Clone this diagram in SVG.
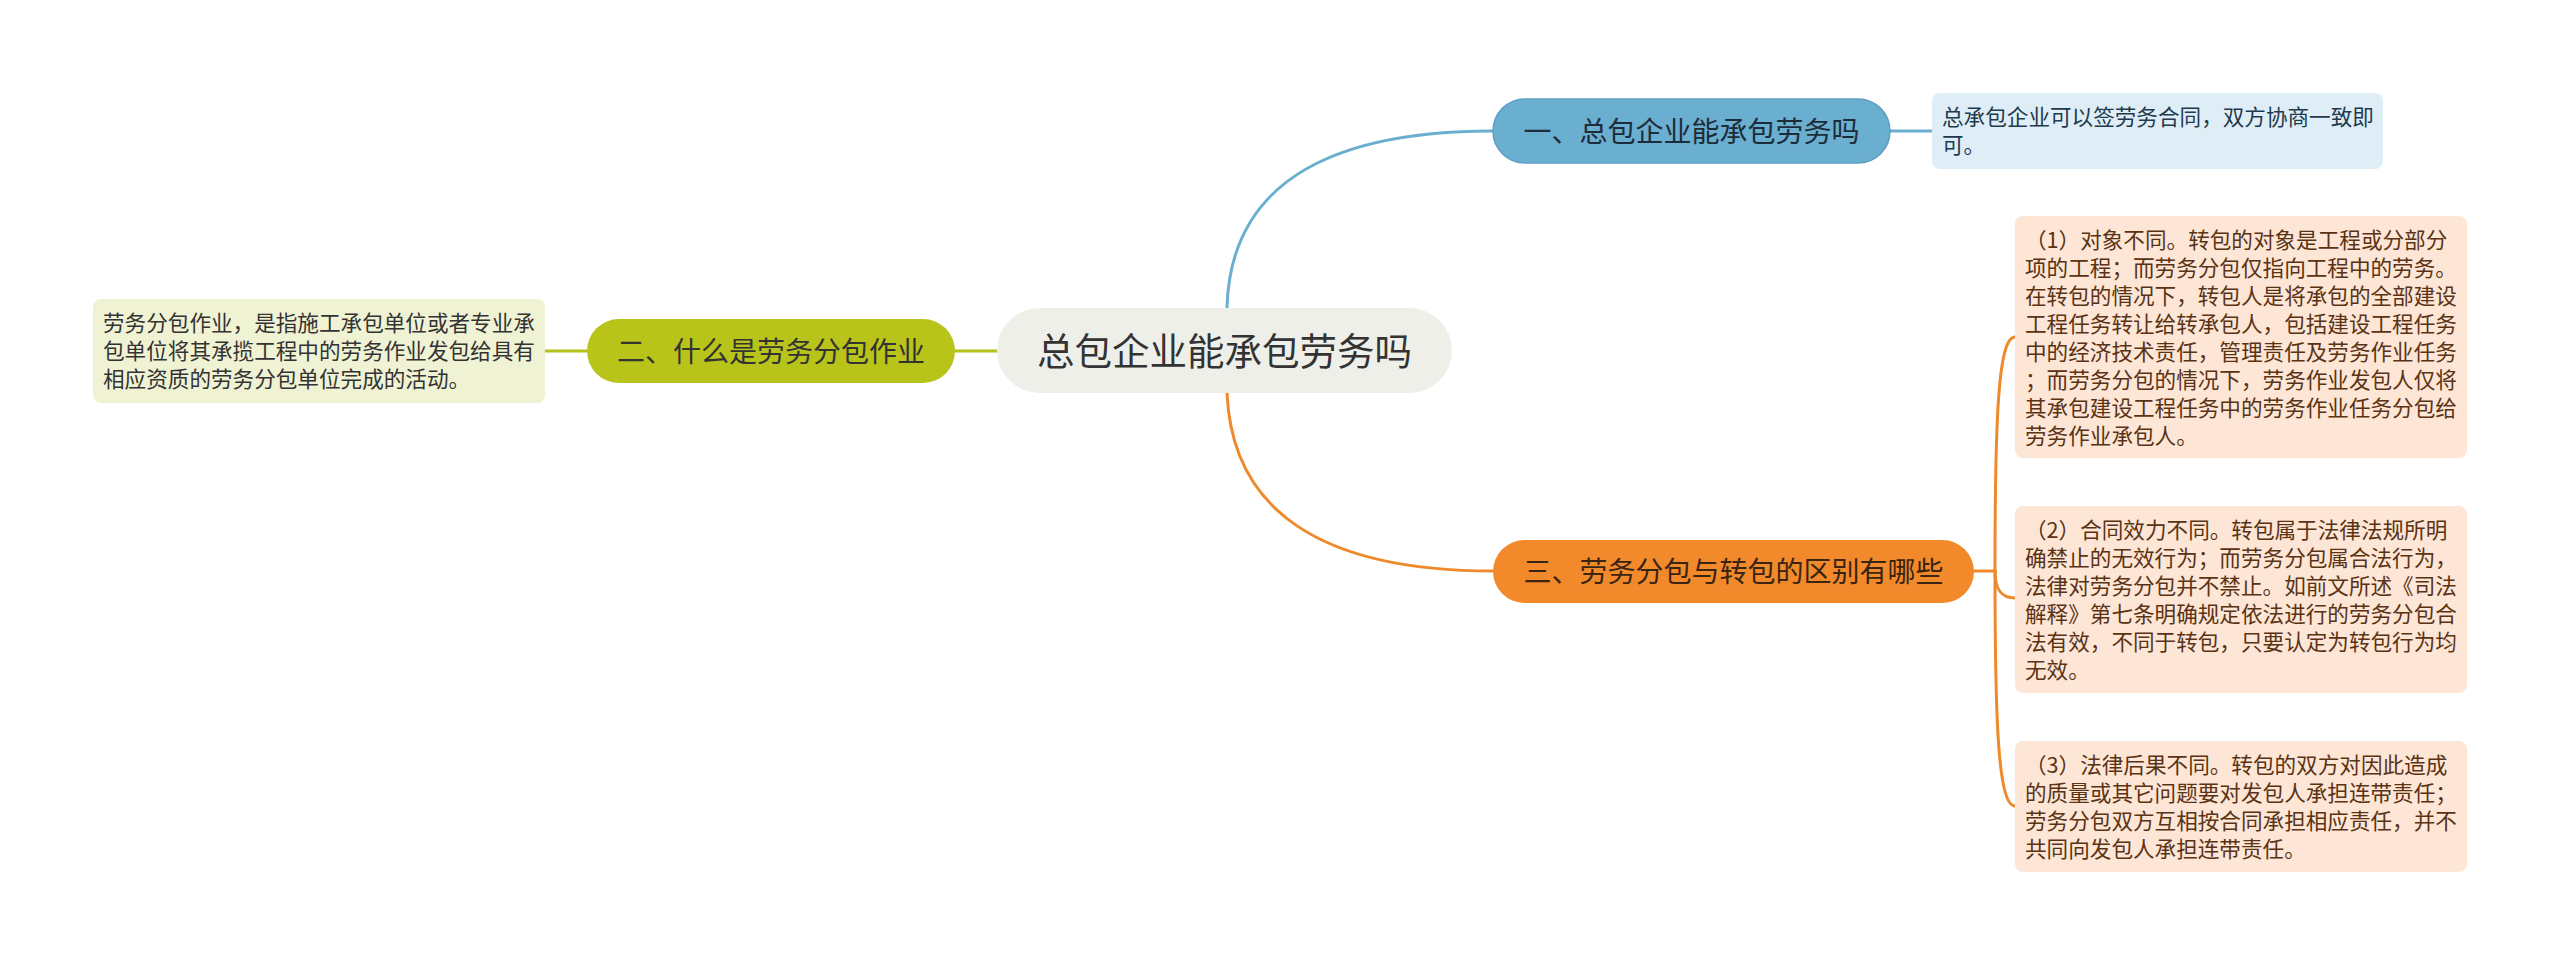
<svg xmlns="http://www.w3.org/2000/svg" width="2560" height="965" viewBox="0 0 2560 965">
<style>
text{font-family:"Noto Sans CJK SC","Noto Sans",sans-serif;}
.c{fill:none;stroke-width:3;stroke-linecap:round}
.blue{stroke:#6aaed0}
.olive{stroke:#b5c01a}
.orange{stroke:#ee8a2c}
.t40{font-size:37.5px;fill:#333;text-anchor:middle}
.t28{font-size:28px;text-anchor:middle}
.leaf{font-size:21.6px}
</style>
<rect width="2560" height="965" fill="#ffffff"/>
<g id="connectors">
<path class="c blue" d="M1227,308 C1230,190 1320,131 1493,131"/>
<path class="c blue" d="M1890,131 L1932,131"/>
<path class="c olive" d="M955,351 L997,351"/>
<path class="c olive" d="M545,351 L587,351"/>
<path class="c orange" d="M1227,393 C1232,510 1320,571 1493,571"/>
<path class="c orange" d="M1974,571 L1995,571"/>
<path class="c orange" d="M1995,571 C1995,420 1998,337 2015,337"/>
<path class="c orange" d="M1995,571 C1995,588 2000,598 2015,598"/>
<path class="c orange" d="M1995,571 C1995,720 1998,806 2015,806"/>
</g>
<g id="center">
<rect x="997" y="308" width="455" height="85" rx="42.5" fill="#efefe9"/>
<text class="t40" x="1224.5" y="365">总包企业能承包劳务吗</text>
</g>
<g id="node1">
<rect x="1493" y="99" width="397" height="64" rx="32" fill="#6aaed0" stroke="#5d9fc3" stroke-width="1.5"/>
<text class="t28" x="1691.5" y="142" fill="#1c2c38">一、总包企业能承包劳务吗</text>
</g>
<g id="leaf1">
<rect x="1932" y="93" width="451" height="76" rx="8" fill="#dfeef6"/>
<text class="leaf" fill="#1d3a4f"><tspan x="1942" y="125">总承包企业可以签劳务合同，双方协商一致即</tspan><tspan x="1942" y="153">可。</tspan></text>
</g>
<g id="node2">
<rect x="587" y="319" width="368" height="64" rx="32" fill="#b9c41a"/>
<text class="t28" x="771" y="362" fill="#333">二、什么是劳务分包作业</text>
</g>
<g id="leaf2">
<rect x="93" y="299" width="452" height="104" rx="8" fill="#f0f2d4"/>
<text class="leaf" fill="#333"><tspan x="103" y="331">劳务分包作业，是指施工承包单位或者专业承</tspan><tspan x="103" y="359">包单位将其承揽工程中的劳务作业发包给具有</tspan><tspan x="103" y="387">相应资质的劳务分包单位完成的活动。</tspan></text>
</g>
<g id="node3">
<rect x="1493" y="540" width="481" height="63" rx="31.5" fill="#f28a2b"/>
<text class="t28" x="1733.5" y="582" fill="#3a2412">三、劳务分包与转包的区别有哪些</text>
</g>
<g id="leaf3a">
<rect x="2015" y="216" width="452" height="242" rx="8" fill="#fde6d6"/>
<text class="leaf" fill="#5a3214"><tspan x="2025" y="248">（1）对象不同。转包的对象是工程或分部分</tspan><tspan x="2025" y="276">项的工程；而劳务分包仅指向工程中的劳务。</tspan><tspan x="2025" y="304">在转包的情况下，转包人是将承包的全部建设</tspan><tspan x="2025" y="332">工程任务转让给转承包人，包括建设工程任务</tspan><tspan x="2025" y="360">中的经济技术责任，管理责任及劳务作业任务</tspan><tspan x="2025" y="388">；而劳务分包的情况下，劳务作业发包人仅将</tspan><tspan x="2025" y="416">其承包建设工程任务中的劳务作业任务分包给</tspan><tspan x="2025" y="444">劳务作业承包人。</tspan></text>
</g>
<g id="leaf3b">
<rect x="2015" y="506" width="452" height="187" rx="8" fill="#fde6d6"/>
<text class="leaf" fill="#5a3214"><tspan x="2025" y="538">（2）合同效力不同。转包属于法律法规所明</tspan><tspan x="2025" y="566">确禁止的无效行为；而劳务分包属合法行为，</tspan><tspan x="2025" y="594">法律对劳务分包并不禁止。如前文所述《司法</tspan><tspan x="2025" y="622">解释》第七条明确规定依法进行的劳务分包合</tspan><tspan x="2025" y="650">法有效，不同于转包，只要认定为转包行为均</tspan><tspan x="2025" y="678">无效。</tspan></text>
</g>
<g id="leaf3c">
<rect x="2015" y="741" width="452" height="131" rx="8" fill="#fde6d6"/>
<text class="leaf" fill="#5a3214"><tspan x="2025" y="773">（3）法律后果不同。转包的双方对因此造成</tspan><tspan x="2025" y="801">的质量或其它问题要对发包人承担连带责任；</tspan><tspan x="2025" y="829">劳务分包双方互相按合同承担相应责任，并不</tspan><tspan x="2025" y="857">共同向发包人承担连带责任。</tspan></text>
</g>
</svg>
